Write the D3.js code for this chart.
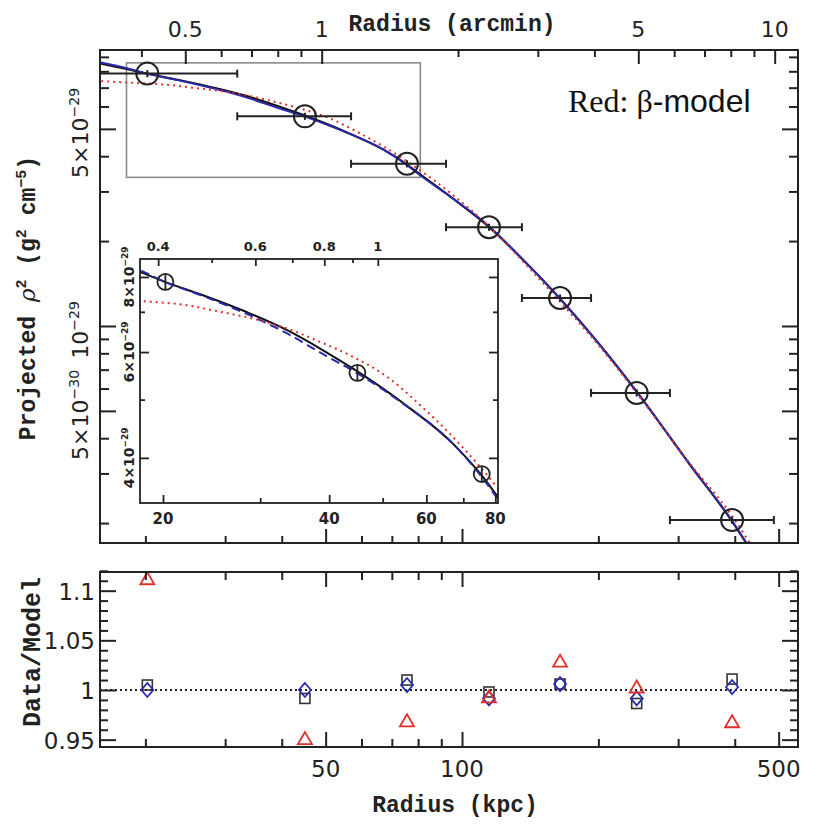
<!DOCTYPE html>
<html>
<head>
<meta charset="utf-8">
<script src="https://cdn.jsdelivr.net/npm/d3@7"></script>
<style>
body { margin: 0; background: #fff; }
</style>
</head>
<body>
<script>
// measured profile (radius in kpc, projected rho^2 in g^2 cm^-5)
var ptR   = [20.2, 45.0, 75.6, 114.7, 164.6, 243, 394.6];
var ptV   = [7.85e-29, 5.54e-29, 3.76e-29, 2.24e-29, 1.257e-29, 5.79e-30, 2.05e-30];
var ptErr = [2.3e-30, 1.6e-30, 1.1e-30, 6.5e-31, 3.7e-31, 1.7e-31, 6e-32];
var binLo = [15.0, 31.9, 56.9, 92.2, 135.6, 192.7, 287.7];
var binHi = [31.9, 56.9, 92.2, 135.6, 192.7, 287.7, 488];

// model curves
var modelR     = [15.5, 18.2, 20.1, 23.7, 28.7, 33.5, 39.0, 45.0, 54.5, 67.1, 75.4, 80.8, 94.1, 114.7, 137.7, 164.6, 201.6, 243, 318.6, 394.6, 440];
var modelBlack = [8.60e-29, 8.15e-29, 7.86e-29, 7.45e-29, 6.96e-29, 6.53e-29, 6.04e-29, 5.57e-29, 4.93e-29, 4.22e-29, 3.75e-29, 3.45e-29, 2.88e-29, 2.245e-29, 1.69e-29, 1.25e-29, 8.56e-30, 5.85e-30, 3.22e-30, 2.03e-30, 1.55e-30];
var modelBlue  = [8.68e-29, 8.21e-29, 7.86e-29, 7.43e-29, 6.91e-29, 6.45e-29, 5.95e-29, 5.53e-29, 4.92e-29, 4.22e-29, 3.73e-29, 3.42e-29, 2.88e-29, 2.26e-29, 1.69e-29, 1.25e-29, 8.56e-30, 5.84e-30, 3.22e-30, 2.04e-30, 1.55e-30];
var betaR   = [15.5, 18.2, 22.1, 25.4, 29.1, 33.5, 38.5, 44.2, 50.9, 58.4, 67.1, 75.0, 80.8, 94.1, 114.7, 137.7, 164.6, 201.6, 243, 318.6, 394.6, 440];
var betaRed = [7.40e-29, 7.30e-29, 7.18e-29, 7.00e-29, 6.82e-29, 6.57e-29, 6.24e-29, 5.89e-29, 5.46e-29, 4.90e-29, 4.33e-29, 3.87e-29, 3.565e-29, 2.97e-29, 2.256e-29, 1.665e-29, 1.22e-29, 8.43e-30, 5.78e-30, 3.25e-30, 2.12e-30, 1.62e-30];

// data / model
var resSquare  = [1.005, 0.9915, 1.010, 0.998, 1.006, 0.9864, 1.011];
var resDiamond = [1.000, 1.000, 1.005, 0.9915, 1.006, 0.9915, 1.003];
var resTri     = [1.112, 0.951, 0.969, 0.993, 1.029, 1.003, 0.968];

var kpcPerArcmin = 49.0;

// ticks and labels
var kpcMajor = [50, 100, 500];
var kpcMinor = [20, 30, 40, 60, 70, 80, 90, 200, 300, 400];
var arcMajor = [0.5, 1, 5, 10];
var arcMinor = [0.4, 0.6, 0.7, 0.8, 0.9, 2, 3, 4, 6, 7, 8, 9];
var rhoMajor = [5e-30, 1e-29, 5e-29];
var rhoMinor = [2e-30, 3e-30, 4e-30, 6e-30, 7e-30, 8e-30, 9e-30, 2e-29, 3e-29, 4e-29, 6e-29, 7e-29, 8e-29, 9e-29];
var rhoLabVal  = [5e-29, 1e-29, 5e-30];
var rhoLabMant = ["5×10", "10", "5×10"];
var rhoLabExp  = ["−29", "−29", "−30"];
var resMajor = [0.95, 1, 1.05, 1.1];
var resMinor = [0.96, 0.97, 0.98, 0.99, 1.01, 1.02, 1.03, 1.04, 1.06, 1.07, 1.08, 1.09, 1.11, 1.12];
var resLabText = ["0.95", "1", "1.05", "1.1"];
var inKpcMajor = [20, 40, 60, 80];
var inKpcMinor = [30, 50, 70];
var inArcMajor = [0.4, 0.6, 0.8, 1];
var inArcMinor = [0.5, 0.7, 0.9];
var inRhoMajor = [4e-29, 6e-29, 8e-29];
var inRhoMinor = [5e-29, 7e-29];
var inRhoMant  = ["4×10", "6×10", "8×10"];

var width = 835, height = 832;
var ink = "#222", red = "#e0302a", blue = "#2a2ab0";
var mono = "Liberation Mono", sans = "DejaVu Sans";

var svg = d3.select("body").append("svg")
  .attr("width", width).attr("height", height);

// scales
var x    = d3.scaleLog().domain([15.88, 551.7]).range([100, 798]);
var xArc = d3.scaleLog().domain([15.88 / kpcPerArcmin, 551.7 / kpcPerArcmin]).range([100, 798]);
var y    = d3.scaleLog().domain([1.70e-30, 9.52e-29]).range([543, 50]);
var yRes = d3.scaleLinear().domain([0.9426, 1.1188]).range([747, 572]);
var xIn    = d3.scaleLog().domain([18.17, 80.9]).range([140, 498]);
var xInArc = d3.scaleLog().domain([18.17 / kpcPerArcmin, 80.9 / kpcPerArcmin]).range([140, 498]);
var yIn    = d3.scaleLog().domain([3.365e-29, 8.57e-29]).range([503, 259]);

var defs = svg.append("defs");
function clip(id, xs, ys) {
  defs.append("clipPath").attr("id", id).append("rect")
    .attr("x", xs.range()[0]).attr("y", ys.range()[1])
    .attr("width", xs.range()[1] - xs.range()[0])
    .attr("height", ys.range()[0] - ys.range()[1]);
}
clip("cMain", x, y);
clip("cIn", xIn, yIn);
clip("cRes", x, yRes);

function ticks(g, axis, vals, len, sw) {
  g.call(axis.tickValues(vals).tickSize(-len).tickFormat(""));
  g.select(".domain").remove();
  g.selectAll("text").remove();
  g.selectAll("line").attr("stroke", ink).attr("stroke-width", sw);
}
function box(xs, ys, sw) {
  var x0 = xs.range()[0], x1 = xs.range()[1], y0 = ys.range()[1], y1 = ys.range()[0];
  svg.append("rect").attr("x", x0).attr("y", y0).attr("width", x1 - x0).attr("height", y1 - y0)
    .attr("fill", "none").attr("stroke", ink).attr("stroke-width", sw);
}
function frameTicks(xs, xt, ys, o) {
  var x0 = xs.range()[0], x1 = xs.range()[1], y0 = ys.range()[1], y1 = ys.range()[0];
  ticks(svg.append("g").attr("transform", "translate(0," + y1 + ")"), d3.axisBottom(xs), o.bMaj, o.bL, o.sw);
  ticks(svg.append("g").attr("transform", "translate(0," + y1 + ")"), d3.axisBottom(xs), o.bMin, o.bl, o.sw);
  ticks(svg.append("g").attr("transform", "translate(0," + y0 + ")"), d3.axisTop(xt), o.tMaj, o.tL, o.sw);
  ticks(svg.append("g").attr("transform", "translate(0," + y0 + ")"), d3.axisTop(xt), o.tMin, o.tl, o.sw);
  [[x0, d3.axisLeft], [x1, d3.axisRight]].forEach(function(s) {
    ticks(svg.append("g").attr("transform", "translate(" + s[0] + ",0)"), s[1](ys), o.yMaj, o.yL, o.sw);
    ticks(svg.append("g").attr("transform", "translate(" + s[0] + ",0)"), s[1](ys), o.yMin, o.yl, o.sw);
  });
}
function sci(cx, cy, mant, exp, size, weight) {
  var t = svg.append("text")
    .attr("transform", "translate(" + cx + "," + cy + ") rotate(-90)")
    .attr("text-anchor", "middle").attr("font-family", sans)
    .attr("font-size", size).attr("font-weight", weight).attr("fill", ink);
  t.append("tspan").text(mant);
  t.append("tspan").attr("dy", -size * 0.42).attr("font-size", size * 0.64).text(exp);
}
function curve(xs, ys, rr, vv) {
  return d3.line()
    .x(function(d) { return xs(d[0]); })
    .y(function(d) { return ys(d[1]); })
    .curve(d3.curveMonotoneX)(d3.zip(rr, vv));
}

// ---------- main panel ----------
var gMain = svg.append("g").attr("clip-path", "url(#cMain)");
gMain.append("rect")
  .attr("x", x(xIn.domain()[0])).attr("y", y(yIn.domain()[1]))
  .attr("width", x(xIn.domain()[1]) - x(xIn.domain()[0]))
  .attr("height", y(yIn.domain()[0]) - y(yIn.domain()[1]))
  .attr("fill", "none").attr("stroke", "#8a8a8a").attr("stroke-width", 1.6);

gMain.append("path").attr("d", curve(x, y, modelR, modelBlack))
  .attr("fill", "none").attr("stroke", "#111").attr("stroke-width", 2.2);
gMain.append("path").attr("d", curve(x, y, modelR, modelBlue))
  .attr("fill", "none").attr("stroke", blue).attr("stroke-width", 1.8);
gMain.append("path").attr("d", curve(x, y, betaR, betaRed))
  .attr("fill", "none").attr("stroke", red).attr("stroke-width", 2)
  .attr("stroke-dasharray", "2,4");

ptR.forEach(function(r, i) {
  var yy = y(ptV[i]);
  gMain.append("line").attr("x1", x(binLo[i])).attr("x2", x(binHi[i]))
    .attr("y1", yy).attr("y2", yy).attr("stroke", ink).attr("stroke-width", 2);
  [binLo[i], binHi[i]].forEach(function(b) {
    gMain.append("line").attr("x1", x(b)).attr("x2", x(b))
      .attr("y1", yy - 4).attr("y2", yy + 4).attr("stroke", ink).attr("stroke-width", 2);
  });
  gMain.append("line").attr("x1", x(r)).attr("x2", x(r))
    .attr("y1", y(ptV[i] - ptErr[i])).attr("y2", y(ptV[i] + ptErr[i]))
    .attr("stroke", ink).attr("stroke-width", 2);
  gMain.append("circle").attr("cx", x(r)).attr("cy", yy).attr("r", 11)
    .attr("fill", "none").attr("stroke", ink).attr("stroke-width", 2);
});

box(x, y, 2);
frameTicks(x, xArc, y, {
  bMaj: kpcMajor, bMin: kpcMinor, bL: 14, bl: 7,
  tMaj: arcMajor, tMin: arcMinor, tL: 14, tl: 7,
  yMaj: rhoMajor, yMin: rhoMinor, yL: 16, yl: 9, sw: 2
});

svg.selectAll(".arcLab").data(arcMajor).enter().append("text")
  .attr("x", function(d) { return xArc(d); }).attr("y", 37)
  .attr("text-anchor", "middle").attr("font-family", sans).attr("font-size", 22)
  .attr("fill", ink).text(function(d) { return d; });
svg.append("text").attr("x", 452).attr("y", 31).attr("text-anchor", "middle")
  .attr("font-family", mono).attr("font-weight", "bold").attr("font-size", 23).attr("fill", ink)
  .text("Radius (arcmin)");

rhoLabVal.forEach(function(v, i) { sci(88, y(v) + 4, rhoLabMant[i], rhoLabExp[i], 22, "normal"); });

var yl = svg.append("text")
  .attr("transform", "translate(35,298) rotate(-90)")
  .attr("text-anchor", "middle").attr("font-family", mono).attr("font-weight", "bold")
  .attr("font-size", 23).attr("fill", ink);
yl.append("tspan").text("Projected ");
yl.append("tspan").attr("font-family", "DejaVu Serif").attr("font-style", "italic").attr("font-weight", "normal").text("ρ");
yl.append("tspan").attr("dy", -9).attr("font-size", 15).text("2");
yl.append("tspan").attr("dy", 9).text(" (g");
yl.append("tspan").attr("dy", -9).attr("font-size", 15).text("2");
yl.append("tspan").attr("dy", 9).text(" cm");
yl.append("tspan").attr("dy", -9).attr("font-size", 15).text("−5");
yl.append("tspan").attr("dy", 9).text(")");

var rl = svg.append("text").attr("x", 568).attr("y", 112).attr("font-size", 32).attr("fill", "#111");
rl.append("tspan").attr("font-family", "Liberation Serif").text("Red: β");
rl.append("tspan").attr("font-family", "Liberation Sans").text("-model");

// ---------- inset ----------
svg.append("rect").attr("x", 140).attr("y", 259).attr("width", 358).attr("height", 244).attr("fill", "#fff");
var gIn = svg.append("g").attr("clip-path", "url(#cIn)");
gIn.append("path").attr("d", curve(xIn, yIn, modelR, modelBlack))
  .attr("fill", "none").attr("stroke", "#111").attr("stroke-width", 2);
gIn.append("path").attr("d", curve(xIn, yIn, modelR, modelBlue))
  .attr("fill", "none").attr("stroke", blue).attr("stroke-width", 2)
  .attr("stroke-dasharray", "9,5");
gIn.append("path").attr("d", curve(xIn, yIn, betaR, betaRed))
  .attr("fill", "none").attr("stroke", red).attr("stroke-width", 2)
  .attr("stroke-dasharray", "2,4");
ptR.forEach(function(r, i) {
  gIn.append("line").attr("x1", xIn(r)).attr("x2", xIn(r))
    .attr("y1", yIn(ptV[i] - ptErr[i])).attr("y2", yIn(ptV[i] + ptErr[i]))
    .attr("stroke", ink).attr("stroke-width", 1.8);
  gIn.append("circle").attr("cx", xIn(r)).attr("cy", yIn(ptV[i])).attr("r", 8)
    .attr("fill", "none").attr("stroke", ink).attr("stroke-width", 1.8);
});
box(xIn, yIn, 1.8);
frameTicks(xIn, xInArc, yIn, {
  bMaj: inKpcMajor, bMin: inKpcMinor, bL: 8, bl: 5,
  tMaj: inArcMajor, tMin: inArcMinor, tL: 7, tl: 4,
  yMaj: inRhoMajor, yMin: inRhoMinor, yL: 9, yl: 5, sw: 1.8
});
svg.selectAll(".inK").data(inKpcMajor).enter().append("text")
  .attr("x", function(d) { return xIn(d); }).attr("y", 524)
  .attr("text-anchor", "middle").attr("font-family", sans).attr("font-weight", "bold")
  .attr("font-size", 15).attr("fill", ink).text(function(d) { return d; });
svg.selectAll(".inA").data(inArcMajor).enter().append("text")
  .attr("x", function(d) { return xInArc(d); }).attr("y", 251)
  .attr("text-anchor", "middle").attr("font-family", sans).attr("font-weight", "bold")
  .attr("font-size", 13).attr("fill", ink).text(function(d) { return d; });
inRhoMajor.forEach(function(v, i) { sci(134, yIn(v), inRhoMant[i], "−29", 14, "bold"); });

// ---------- residual panel ----------
var gRes = svg.append("g").attr("clip-path", "url(#cRes)");
gRes.append("line").attr("x1", 100).attr("x2", 798)
  .attr("y1", yRes(1)).attr("y2", yRes(1))
  .attr("stroke", ink).attr("stroke-width", 2).attr("stroke-dasharray", "2,3");
ptR.forEach(function(r, i) {
  var cx = x(r);
  gRes.append("rect").attr("x", cx - 5).attr("y", yRes(resSquare[i]) - 5)
    .attr("width", 10).attr("height", 10)
    .attr("fill", "none").attr("stroke", "#333").attr("stroke-width", 1.6);
});
ptR.forEach(function(r, i) {
  var cx = x(r), cy = yRes(resDiamond[i]);
  gRes.append("path")
    .attr("d", "M" + cx + "," + (cy - 7) + "L" + (cx + 6) + "," + cy + "L" + cx + "," + (cy + 7) + "L" + (cx - 6) + "," + cy + "Z")
    .attr("fill", "none").attr("stroke", blue).attr("stroke-width", 1.8);
});
ptR.forEach(function(r, i) {
  var cx = x(r), cy = yRes(resTri[i]);
  gRes.append("path")
    .attr("d", "M" + cx + "," + (cy - 6.5) + "L" + (cx + 7) + "," + (cy + 5.5) + "L" + (cx - 7) + "," + (cy + 5.5) + "Z")
    .attr("fill", "none").attr("stroke", red).attr("stroke-width", 1.8);
});
box(x, yRes, 2);
frameTicks(x, x, yRes, {
  bMaj: kpcMajor, bMin: kpcMinor, bL: 15, bl: 8,
  tMaj: kpcMajor, tMin: kpcMinor, tL: 15, tl: 8,
  yMaj: resMajor, yMin: resMinor, yL: 16, yl: 8, sw: 2
});
svg.selectAll(".kLab").data(kpcMajor).enter().append("text")
  .attr("x", function(d) { return x(d); }).attr("y", 777)
  .attr("text-anchor", "middle").attr("font-family", sans).attr("font-size", 23)
  .attr("fill", ink).text(function(d) { return d; });
svg.selectAll(".rLab").data(resMajor).enter().append("text")
  .attr("x", 95).attr("y", function(d) { return yRes(d) + 9; })
  .attr("text-anchor", "end").attr("font-family", sans).attr("font-size", 23)
  .attr("fill", ink).text(function(d, i) { return resLabText[i]; });
svg.append("text").attr("x", 455).attr("y", 812).attr("text-anchor", "middle")
  .attr("font-family", mono).attr("font-weight", "bold").attr("font-size", 23).attr("fill", ink)
  .text("Radius (kpc)");
svg.append("text").attr("transform", "translate(40,652) rotate(-90)")
  .attr("text-anchor", "middle").attr("font-family", mono).attr("font-weight", "bold")
  .attr("font-size", 25).attr("fill", ink).text("Data/Model");
</script>
</body>
</html>
